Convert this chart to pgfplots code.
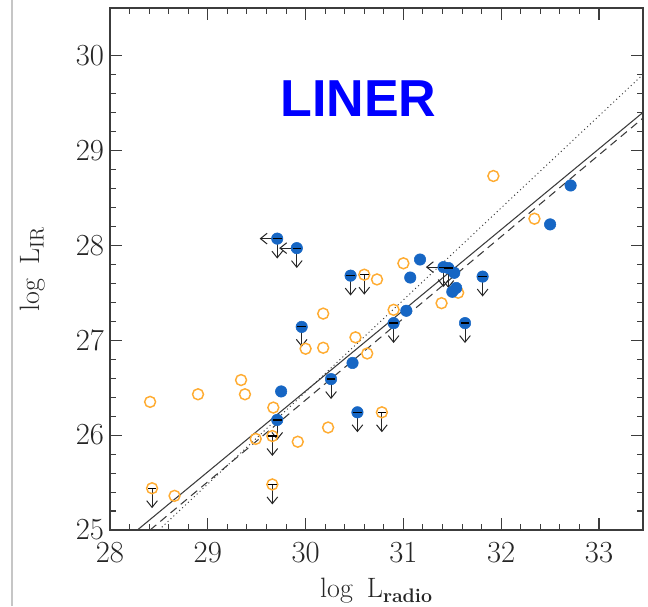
\documentclass[border=0pt]{standalone}
\usepackage{fontspec}
\usepackage{pgfplots}
\pgfplotsset{compat=1.18}
\usepackage{pgfplotstable}
\usetikzlibrary{arrows.meta}
\newfontfamily\titlefont{Liberation Sans}

\definecolor{linerblue}{RGB}{22,102,196}
\definecolor{linerorange}{RGB}{255,172,50}
\definecolor{framegray}{RGB}{60,60,60}

% filled symbols
\pgfplotstableread{
x y
29.71 28.07
29.91 27.97
29.96 27.14
30.46 27.68
31.17 27.85
31.07 27.66
31.41 27.77
31.46 27.76
31.52 27.71
31.50 27.51
31.54 27.55
31.81 27.67
31.63 27.18
32.50 28.22
32.71 28.63
31.03 27.31
30.90 27.18
30.48 26.76
30.26 26.59
30.53 26.24
29.75 26.46
29.71 26.16
}\bluepts

% open symbols
\pgfplotstableread{
x y
28.41 26.35
28.90 26.43
29.34 26.58
29.38 26.43
29.67 26.29
29.49 25.96
29.66 25.99
29.92 25.93
28.43 25.44
28.66 25.36
29.66 25.48
30.60 27.69
30.73 27.64
31.00 27.81
30.90 27.32
30.18 27.28
30.00 26.91
30.18 26.92
30.51 27.03
30.63 26.86
30.78 26.24
30.23 26.08
31.39 27.39
31.92 28.73
32.34 28.28
31.56 27.50
}\orangepts

% upper limits in L_IR
\pgfplotstableread{
x y
29.71 28.07
29.91 27.97
29.96 27.14
30.46 27.68
31.41 27.77
31.46 27.76
31.81 27.67
31.63 27.18
30.90 27.18
30.26 26.59
30.53 26.24
29.71 26.16
29.66 25.99
28.43 25.44
29.66 25.48
30.60 27.69
30.78 26.24
}\uplims

% upper limits in L_radio
\pgfplotstableread{
x y
29.71 28.07
29.91 27.97
31.41 27.77
}\leftlims

\begin{document}
\begin{tikzpicture}[x=1pt,y=1pt]
\path[use as bounding box] (-82.5,-57) rectangle (403.5,397.5);
\draw[gray!45, line width=1.2pt] (-73.5,-57) -- (-73.5,397.5);
\begin{axis}[
  at={(0,0)}, anchor=south west,
  scale only axis, width=399.75pt, height=391.5pt,
  xmin=28, xmax=33.45, ymin=25, ymax=30.5,
  xtick={28,29,30,31,32,33}, ytick={25,26,27,28,29,30},
  minor x tick num=4, minor y tick num=4,
  tick align=inside, tick pos=both,
  major tick length=9pt, minor tick length=4.5pt,
  axis line style={framegray, line width=1pt},
  tick style={framegray, line width=0.8pt},
  /pgf/number format/assume math mode=true,
  tick label style={font=\fontsize{23}{23}\selectfont, text=black!85},
  xticklabel style={yshift=-6pt},
  yticklabel style={xshift=-1pt},
  xlabel={log\hspace{0.5em}L\textsubscript{\bfseries radio}},
  ylabel={log\hspace{0.5em}L\textsubscript{IR}},
  label style={font=\fontsize{21}{21}\selectfont, text=black!85},
  xlabel style={at={(axis description cs:0.5,-0.13)}, anchor=base},
  ylabel style={at={(axis description cs:-0.145,0.5)}, anchor=center},
]
% fitted relations
\addplot[framegray, line width=0.8pt] coordinates {(28.28,25) (33.45,29.40)};
\addplot[framegray, line width=0.8pt, dash pattern=on 6pt off 4pt] coordinates {(28.41,25) (33.45,29.34)};
\addplot[framegray, line width=0.7pt, dash pattern=on 0.8pt off 2.2pt] coordinates {(28.50,25) (33.45,29.80)};

% data
\addplot[only marks, mark=o, mark size=4.1pt, mark options={line width=1.1pt}, color=linerorange] table {\orangepts};
\addplot[only marks, mark=*, mark size=4.3pt, color=linerblue] table {\bluepts};

% limits
\addplot[black!85, line width=0.75pt, -{Straight Barb[length=5pt,width=8pt]}, quiver={u=0, v=-0.21}] table {\uplims};
\addplot[black!85, line width=0.75pt, -{Straight Barb[length=5pt,width=8pt]}, quiver={u=-0.18, v=0}] table {\leftlims};
\addplot[only marks, mark=-, mark size=3.2pt, black, mark options={line width=0.9pt}] table {\uplims};

\node[font={\fontsize{39}{39}\titlefont\bfseries}, text=blue] at (axis cs:30.54,29.55) {LINER};
\end{axis}
\end{tikzpicture}
\end{document}
